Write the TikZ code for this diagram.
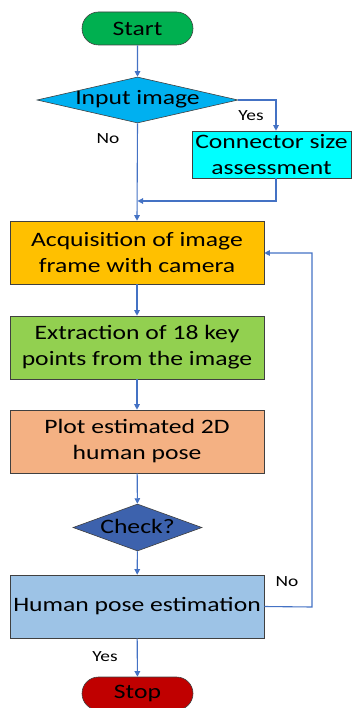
\documentclass[tikz,border=0pt]{standalone}
\usepackage{fontspec}
\setmainfont{Carlito}[FakeStretch=1.25]
\usetikzlibrary{shapes.geometric,shapes.misc,arrows.meta}
\definecolor{linkblue}{HTML}{4472C4}
\definecolor{edgegray}{HTML}{404040}
\begin{document}
\begin{tikzpicture}[x=1pt,y=-1pt,
  flow/.style={draw=linkblue,line width=1.1pt,-{Triangle[width=5.5pt,length=5.5pt]}},
  box/.style={draw=edgegray,line width=0.6pt,minimum width=254pt,minimum height=63pt,
    align=center,font=\fontsize{20.5}{26}\selectfont,inner sep=0pt},
  term/.style={draw=edgegray,line width=0.6pt,rounded rectangle,minimum width=111pt,
    minimum height=33pt,font=\fontsize{20.5}{24}\selectfont,inner sep=0pt},
  decision/.style={draw=edgegray,line width=0.6pt,diamond,aspect=2,inner sep=0pt},
  dtext/.style={font=\fontsize{20.5}{24}\selectfont,inner sep=0pt},
  tag/.style={font=\fontsize{15.5}{18}\selectfont,inner sep=0pt}]
\useasboundingbox (0,0) rectangle (355,708);
\clip (0,0) rectangle (355,708);

% terminals
\node[term,fill={rgb,255:red,0;green,176;blue,80}] (start) at (137.5,28.5) {Start};
\node[term,fill={rgb,255:red,192;green,0;blue,0}] (stop) at (137.5,693.5) {Stop};

% decisions
\node[decision,fill={rgb,255:red,0;green,176;blue,240},minimum width=201pt,minimum height=46pt]
  (input) at (137.5,100) {};
\node[dtext] at (137.5,99) {Input image};
\node[decision,fill={rgb,255:red,61;green,98;blue,173},minimum width=129pt,minimum height=47pt]
  (check) at (137.5,527.5) {};
\node[dtext] at (137.5,526.5) {Check?};

% process boxes
\node[box,fill={rgb,255:red,0;green,255;blue,255},minimum width=159pt,minimum height=47pt]
  (conn) at (271.5,154.5) {Connector size\\assessment};
\node[box,fill={rgb,255:red,255;green,192;blue,0}] (acq) at (137,252.5) {Acquisition of image\\frame with camera};
\node[box,fill={rgb,255:red,146;green,208;blue,80}] (ext) at (137,347.5) {Extraction of 18 key\\points from the image};
\node[box,fill={rgb,255:red,244;green,177;blue,131}] (plot) at (137,441.5) {Plot estimated 2D\\human pose};
\node[box,fill={rgb,255:red,157;green,195;blue,230}] (hpe) at (137,606.5) {Human pose estimation};

% helper points
\coordinate (yesturn) at (276,100);
\coordinate (joinR) at (276,201);
\coordinate (joinL) at (137.5,201);
\coordinate (loopA) at (312,607);
\coordinate (loopB) at (312,253);

% connectors
\draw[flow] (start) -- (input);
\draw[flow] (input.east) -- (yesturn) -- (conn.north -| yesturn);
\draw[flow] (conn.south -| joinR) -- (joinR) -- (joinL);
\draw[flow] (input.south) -- (acq.north);
\draw[flow] (acq) -- (ext);
\draw[flow] (ext) -- (plot);
\draw[flow] (plot) -- (check);
\draw[flow] (check) -- (hpe);
\draw[flow] (hpe.east) -- (loopA) -- (loopB) -- (acq.east |- loopB);
\draw[flow] (hpe) -- (stop);

% branch labels
\node[tag] at (251,116) {Yes};
\node[tag] at (108,139) {No};
\node[tag] at (287,582) {No};
\node[tag] at (105,657) {Yes};
\end{tikzpicture}
\end{document}
